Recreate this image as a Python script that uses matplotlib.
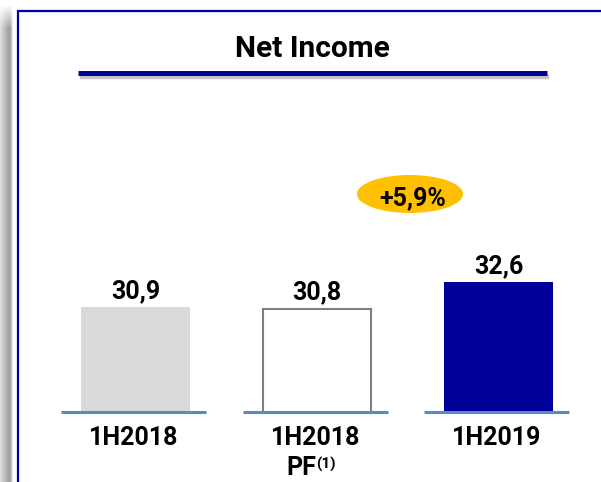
import matplotlib
matplotlib.use('Agg')
import matplotlib.pyplot as plt
from matplotlib.patches import Rectangle, Ellipse
from matplotlib.lines import Line2D
import numpy as np

# ---- data ----
categories = ["1H2018", "1H2018", "1H2019"]
sublabels = ["", "PF", ""]
superscripts = ["", "(1)", ""]
values = [30.9, 30.8, 32.6]
value_labels = ["30,9", "30,8", "32,6"]
title = "Net Income"
growth_label = "+5,9%"

W, H = 601, 482
plt.rcParams['font.family'] = ['Roboto', 'DejaVu Sans']
fig = plt.figure(figsize=(W / 100, H / 100), dpi=100)
fig.patch.set_facecolor('white')


def fx(x):
    return x / W


def fy(y):
    return 1 - y / H


# left shadow band
sh = fig.add_axes([0, 0, fx(14), 1])
prof = np.array([0.86, 0.84, 0.81, 0.78, 0.75, 0.72, 0.69, 0.66, 0.64, 0.63,
                 0.66, 0.78, 0.92, 1.0])
rows = np.arange(H)
fade = np.clip((rows - 4) / 24.0, 0, 1)
img = 1 - (1 - prof[None, :]) * fade[:, None]
sh.imshow(img, cmap='gray', vmin=0, vmax=1, aspect='auto', interpolation='bilinear')
sh.axis('off')

# frame
fig.add_artist(Rectangle((fx(17.5), -0.2), 1.5, fy(10.5) + 0.2,
                         transform=fig.transFigure, fill=False,
                         ec='#0000A0', lw=1.6))

# title and underline
fig.add_artist(Line2D([fx(80), fx(549)], [fy(77)] * 2, lw=3.2, color='#c4c4c4',
                      transform=fig.transFigure, solid_capstyle='butt'))
fig.add_artist(Line2D([fx(78), fx(547)], [fy(72.5)] * 2, lw=3.6, color='#000099',
                      transform=fig.transFigure, solid_capstyle='butt'))
fig.text(fx(312), fy(57), title, ha='center', va='baseline',
         fontsize=21.5, fontweight='bold', color='black')

# main axes
y0 = 23.76
scale = 14.7  # px per unit
top_px = 150
ax = fig.add_axes([fx(44.75), fy(412), 544.5 / W, (412 - top_px) / H])
ax.set_xlim(-0.5, 2.5)
ax.set_ylim(y0, y0 + (412 - top_px) / scale)
ax.axis('off')

x = np.arange(len(values))
ax.bar(x, values, width=0.6,
       color=['#D9D9D9', 'white', '#000099'],
       edgecolor=['#D9D9D9', '#7F7F7F', '#000099'],
       linewidth=[0, 1.5, 0], zorder=2)

for i in x:
    ax.plot([i - 0.41, i + 0.39], [y0, y0], color='#5A8AC6', lw=2.2,
            solid_capstyle='butt', clip_on=False, zorder=3)

for i, (v, lbl) in enumerate(zip(values, value_labels)):
    ax.annotate(lbl, (i, v), xytext=(0, 6.5), textcoords='offset points',
                ha='center', va='baseline', fontsize=18, fontweight='bold')

for i, (cat, sub, sup) in enumerate(zip(categories, sublabels, superscripts)):
    ax.annotate(cat, (i, 0), xycoords=('data', 'axes fraction'),
                xytext=(-1, -23.8), textcoords='offset points',
                ha='center', va='baseline', fontsize=18, fontweight='bold')
    if sub:
        ax.annotate(sub, (i, 0), xycoords=('data', 'axes fraction'),
                    xytext=(-0.5, -45.4), textcoords='offset points',
                    ha='right', va='baseline', fontsize=18, fontweight='bold')
    if sup:
        ax.annotate(sup, (i, 0), xycoords=('data', 'axes fraction'),
                    xytext=(-0.5, -41.0), textcoords='offset points',
                    ha='left', va='baseline', fontsize=11, fontweight='bold')

# growth bubble
fig.add_artist(Ellipse((fx(410), fy(194)), 106 / W, 38 / H,
                       transform=fig.transFigure, color='#FFC000', lw=0))
fig.text(fx(413), fy(205), growth_label, ha='center', va='baseline',
         fontsize=18, fontweight='bold', color='black')

fig.savefig('out.png', dpi=100)
